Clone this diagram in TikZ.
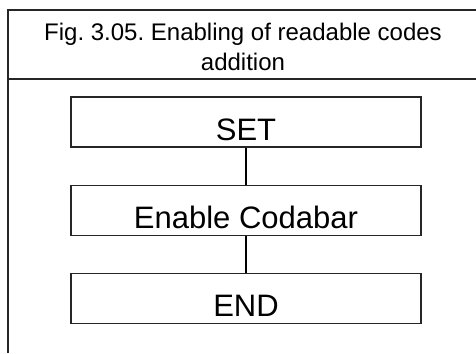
\documentclass[tikz,border=0pt]{standalone}
\usepackage{fontspec}
\setmainfont{Liberation Sans}
\usetikzlibrary{positioning}
\frenchspacing

\begin{document}
\begin{tikzpicture}[
  x=1pt, y=-1pt,
  frm/.style={draw=black!85, line width=1.3pt},
  blk/.style={rectangle, draw=black!85, line width=1.3pt, minimum width=350pt,
              minimum height=50pt, inner sep=0pt, text height=36pt, text depth=0pt,
              font=\fontsize{31}{31}\selectfont},
  lnk/.style={draw=black, line width=1.3pt}
]
\useasboundingbox (0,0) rectangle (476,353);
% frame and header
\coordinate (tl) at (8,10);
\coordinate (tr) at (476,10);
\coordinate (bl) at (8,353);
\coordinate (ml) at (8,79);
\coordinate (mr) at (476,79);
\draw[frm] (bl) -- (tl) -- (tr);
\draw[frm] (ml) -- (mr);
\node[align=center, font=\fontsize{24}{30}\selectfont] (title) at (243,47)
  {Fig. 3.05. Enabling of readable codes\\addition};

% steps
\node[blk] (set) at (246,122) {SET};
\node[blk, below=37pt of set] (codabar) {Enable Codabar};
\node[blk, below=37pt of codabar] (end) {END};

\draw[lnk] (set) -- (codabar);
\draw[lnk] (codabar) -- (end);
\end{tikzpicture}
\end{document}
